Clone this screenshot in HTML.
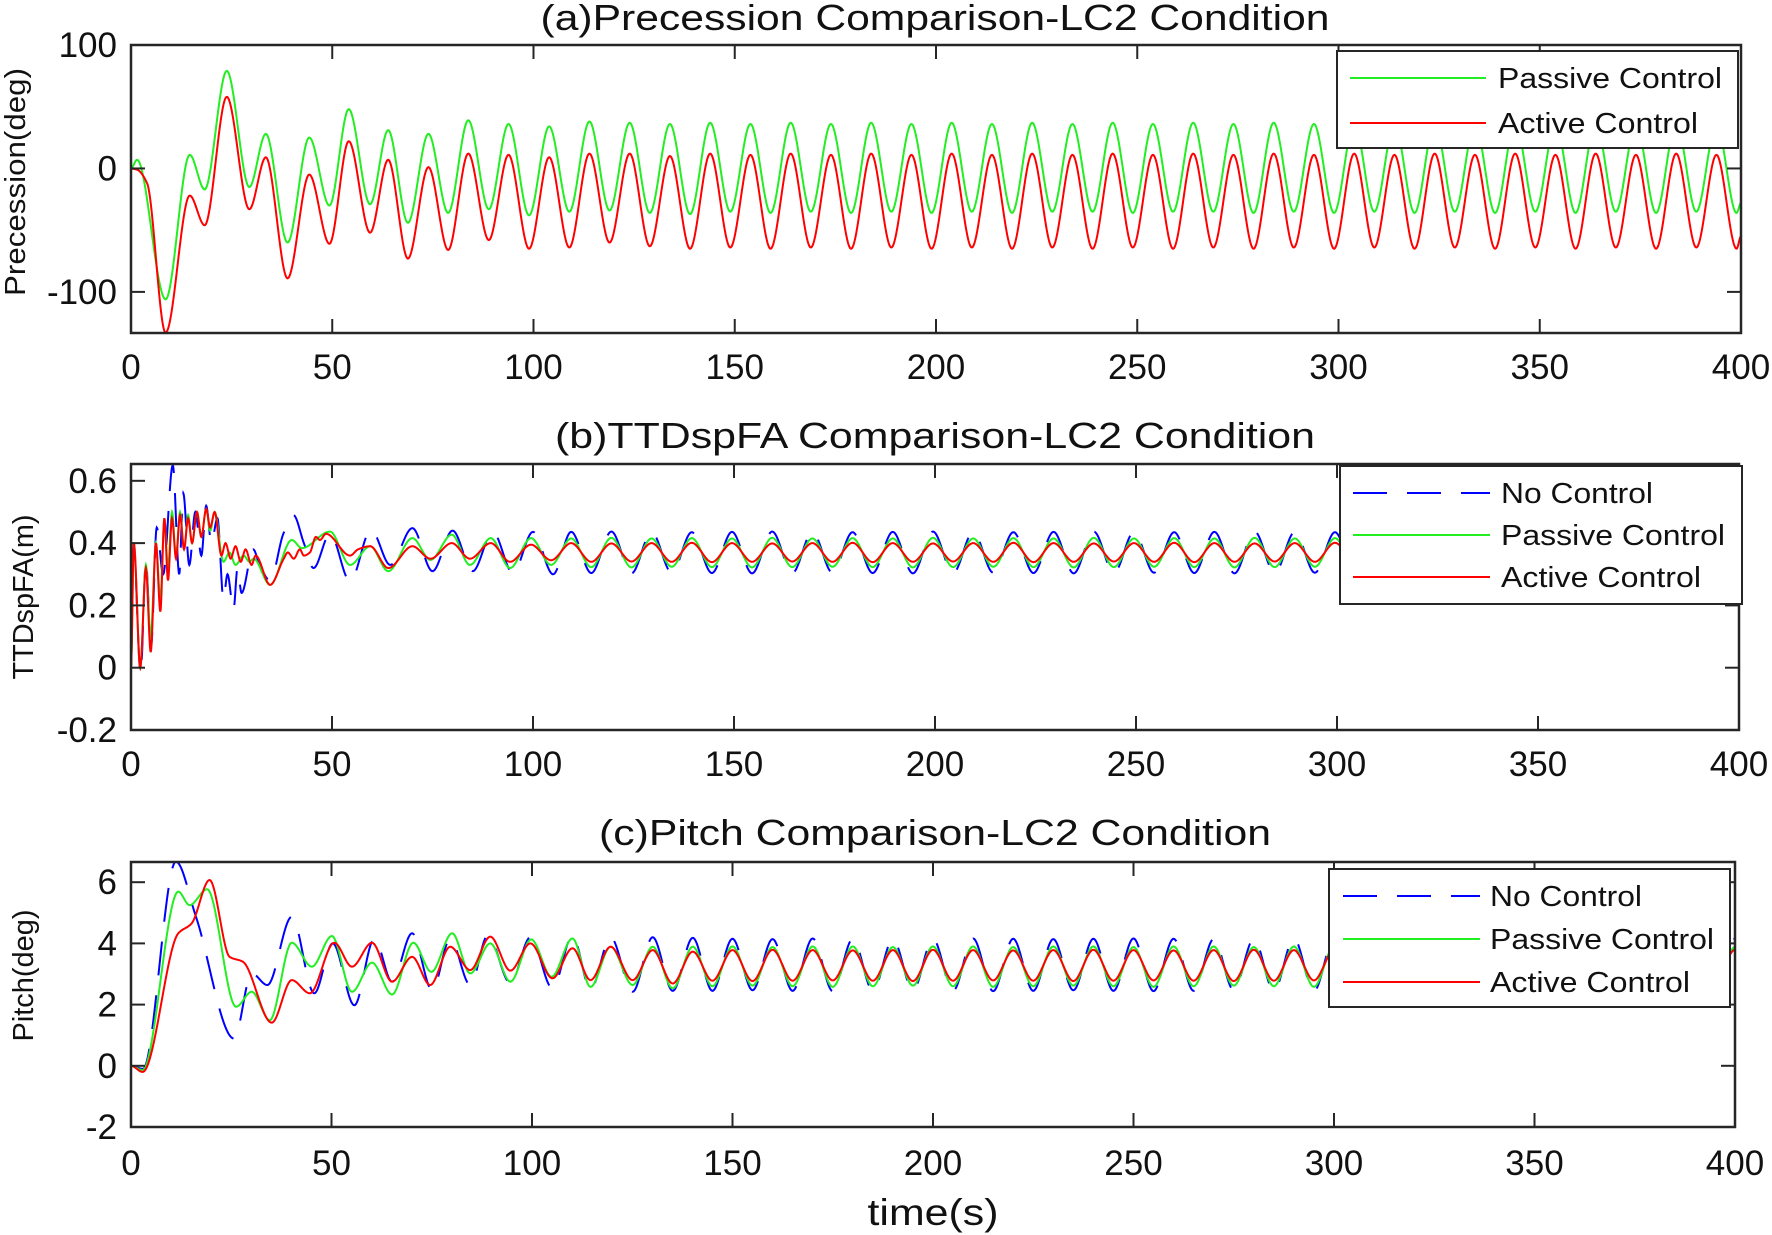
<!DOCTYPE html>
<html><head><meta charset="utf-8">
<style>
html,body{margin:0;padding:0;background:#fff;}
svg{display:block;font-family:"Liberation Sans",Arial,sans-serif;}
</style></head>
<body>
<svg id="fig" width="1772" height="1235" viewBox="0 0 1772 1235" xmlns="http://www.w3.org/2000/svg"></svg>
<script>
// ---------- Panel (a) Precession ----------
const aGreenT = [0,1.5,8.6,14.6,18.3,23.8,29.4,33.5,38.9,44.3,49.3,54.1,59.4,63.9,68.8,73.9,78.8,83.8,88.9,93.8,98.9,103.9,108.9,113.9,118.9,123.9,128.9,133.9,138.9];
const aGreenV = [0,7,-106,11,-17,79,-15,28,-60,25,-30,48,-29,31,-44,28,-36,39,-33,36,-38,34,-35,38,-34,37,-36,36,-37];
const aRedT = [0,1.5,4,8.6,14.6,18.3,23.8,29.4,33.5,38.9,44.3,49.3,54.1,59.4,63.9,68.8,73.9,78.8,83.8,88.9,93.8,98.9,103.9,108.9,113.9,118.9,123.9,128.9,133.9,138.9];
const aRedV = [0,-1,-12,-133,-22,-46,58,-33,9,-89,-5,-61,22,-52,7,-73,1,-66,12,-58,11,-65,9,-64,12,-60,12,-63,10,-65];
const aSteadyT = [143.9,148.9,153.9,158.9,163.9,168.9,173.9,178.9,183.9,188.9,193.9,198.9,203.9,208.9,213.9,218.9,223.9,228.9,233.9,238.9,243.9,248.9,253.9,258.9,263.9,268.9,273.9,278.9,283.9,288.9,293.9,298.9,303.9,308.9,313.9,318.9,323.9,328.9,333.9,338.9,343.9,348.9,353.9,358.9,363.9,368.9,373.9,378.9,383.9,388.9,393.9,398.9,400];
const aGreenSteady = [37,-35,36,-36,37,-35,36,-36,37,-35,36,-36,37,-35,36,-36,37,-35,36,-35,37,-36,36,-35,37,-35,36,-36,37,-35,36,-36,37,-35,36,-36,37,-35,36,-36,37,-35,36,-36,37,-35,36,-36,37,-35,36,-36,-28];
const aRedSteady = [12,-64,11,-65,12,-64,11,-65,12,-64,11,-65,12,-64,11,-65,12,-64,11,-65,12,-64,11,-65,12,-64,11,-65,12,-64,11,-65,12,-64,11,-65,12,-64,11,-65,12,-64,11,-65,12,-64,11,-65,12,-64,11,-65,-55];
const aYTicks = [-100,0,100];
const aYTickLabels = ["-100","0","100"];

// ---------- Panel (b) TTDspFA ----------
const bGreenT = [0,0.7,2.3,3.7,4.9,6.2,7.3,8.3,9.2,10.2,11.2,12.2,13.2,14.2,15.2,16.4,17.5,18.7,19.7,20.8,23,24.5,26,28,29.5,30.5,34.6,40,42.5,49.5,54.5,59.5,64,70,74.5,79.8,84.3,89.5,94.3,99.5,104.5];
const bGreenV = [0,0.40,0.0,0.33,0.10,0.40,0.22,0.48,0.32,0.50,0.36,0.50,0.38,0.49,0.40,0.50,0.42,0.51,0.44,0.50,0.34,0.37,0.33,0.36,0.34,0.35,0.266,0.41,0.384,0.437,0.33,0.39,0.31,0.416,0.346,0.427,0.33,0.416,0.32,0.416,0.33];
const bRedT = [0,0.7,2.3,3.7,4.9,6.2,7.3,8.3,9.2,10.2,11.2,12.2,13.2,14.2,15.2,16.4,17.5,18.7,19.7,20.8,22.5,23.5,24.8,26,27.3,28.5,30,31,34.6,38,39,40.5,42,43,44.5,46,47,48.5,54.5,56.5,59.5,64,70,74.5,79.8,84.3,89.5,94.3,99.5,104.5];
const bRedV = [0,0.40,0.0,0.32,0.05,0.40,0.18,0.48,0.28,0.48,0.35,0.49,0.38,0.48,0.40,0.50,0.42,0.51,0.45,0.50,0.36,0.40,0.35,0.39,0.34,0.38,0.33,0.36,0.266,0.35,0.37,0.35,0.38,0.36,0.37,0.42,0.41,0.43,0.36,0.38,0.39,0.32,0.39,0.35,0.40,0.35,0.40,0.34,0.395,0.345];
const bBlueT = [0,0.6,2.4,3.7,5,6.4,8,10.4,12,13,14.5,16,17.5,18.7,20,21.5,23,24,25.5,26.5,27.5,30.4,32,34.6,37.9,40.4,43,45.4,49.5,54.5,59.7,64.5,70,75,80,85,90,95,100,105];
const bBlueV = [0,0.40,-0.02,0.34,0.07,0.45,0.30,0.65,0.30,0.56,0.33,0.50,0.36,0.52,0.40,0.48,0.22,0.30,0.186,0.32,0.24,0.38,0.33,0.28,0.43,0.49,0.40,0.32,0.43,0.277,0.443,0.33,0.448,0.31,0.44,0.31,0.436,0.304,0.436,0.30];
const bSteadyT = [109.5,114.5,119.5,124.5,129.5,134.5,139.5,144.5,149.5,154.5,159.5,164.5,169.5,174.5,179.5,184.5,189.5,194.5,199.5,204.5,209.5,214.5,219.5,224.5,229.5,234.5,239.5,244.5,249.5,254.5,259.5,264.5,269.5,274.5,279.5,284.5,289.5,294.5,299.5,304.5,309.5,314.5,319.5,324.5,329.5,334.5,339.5,344.5,349.5,354.5,359.5,364.5,369.5,374.5,379.5,384.5,389.5,394.5,399.5];
const bGreenSteady = [0.415,0.323,0.417,0.322,0.415,0.324,0.416,0.323,0.415,0.322,0.417,0.323,0.415,0.324,0.416,0.323,0.415,0.322,0.417,0.323,0.415,0.324,0.416,0.323,0.415,0.322,0.417,0.323,0.415,0.324,0.416,0.323,0.415,0.322,0.417,0.323,0.415,0.324,0.416,0.323,0.415,0.322,0.417,0.323,0.415,0.324,0.416,0.323,0.415,0.322,0.417,0.323,0.415,0.324,0.416,0.323,0.415,0.322,0.417];
const bRedSteady = [0.400,0.340,0.399,0.341,0.400,0.340,0.401,0.339,0.400,0.340,0.399,0.341,0.400,0.340,0.401,0.339,0.400,0.340,0.399,0.341,0.400,0.340,0.401,0.339,0.400,0.340,0.399,0.341,0.400,0.340,0.401,0.339,0.400,0.340,0.399,0.341,0.400,0.340,0.401,0.339,0.400,0.340,0.399,0.341,0.400,0.340,0.401,0.339,0.400,0.340,0.399,0.341,0.400,0.340,0.401,0.339,0.400,0.340,0.400];
const bBlueSteady = [0.436,0.304,0.437,0.303,0.436,0.305,0.435,0.304,0.436,0.303,0.437,0.304,0.436,0.305,0.435,0.304,0.436,0.303,0.437,0.304,0.436,0.305,0.435,0.304,0.436,0.303,0.437,0.304,0.436,0.305,0.435,0.304,0.436,0.303,0.437,0.304,0.436,0.305,0.435,0.304,0.436,0.303,0.437,0.304,0.436,0.305,0.435,0.304,0.436,0.303,0.437,0.304,0.436,0.305,0.435,0.304,0.436,0.303,0.436];
const bYTicks = [-0.2,0,0.2,0.4,0.6];
const bYTickLabels = ["-0.2","0","0.2","0.4","0.6"];

// ---------- Panel (c) Pitch ----------
const cGreenT = [0,2.9,11.8,14.6,19,26.2,30.1,34.6,40.1,45.1,50.1,55.1,60.1,65.1,70.4,74.9,80.1,84.6,89.6,94.6,99.8,104.9,110.1,114.6,119.6,125.1,130.1,135.1,140.1];
const cGreenV = [0,-0.14,5.69,5.25,5.77,1.93,2.42,1.49,4.02,3.24,4.24,2.42,3.37,2.33,4.02,3.07,4.33,3.02,4.0,2.75,4.13,2.91,4.16,2.58,3.89,2.64,3.89,2.53,3.89];
const cRedT = [0,2.9,11.8,15.1,19.6,24.6,27.9,35.1,40.1,44.6,50.7,55.1,60.1,65.1,70.1,74.6,79.6,84.6,89.6,94.6,99.6,105.1,110.1,114.6,119.6,125.1,130.1,135.1,140.1];
const cRedV = [0,-0.2,4.33,4.65,6.07,3.56,3.4,1.41,2.8,2.37,4.02,3.24,4.02,2.75,3.56,2.64,3.89,3.13,4.22,3.11,4.0,2.86,3.84,2.8,3.89,2.8,3.78,2.69,3.73];
const cBlueT = [0,3,11.2,16.2,25.7,30.1,34,40.1,45.7,50.3,55.7,60.7,65.1,70.1,75.1,79.6,84.6,89,94.6,99.6,105.1,110.1,114.6,119.6,125.1,130.1,135.1,140.1];
const cBlueV = [0,-0.1,6.67,4.87,0.89,3.02,2.64,4.87,2.37,4.0,1.98,4.16,2.75,4.33,2.47,4.15,2.64,4.27,2.7,4.2,2.53,4.25,2.5,4.2,2.42,4.2,2.45,4.18];
const cSteadyT = [145,150,155,160,165,170,175,180,185,190,195,200,205,210,215,220,225,230,235,240,245,250,255,260,265,270,275,280,285,290,295,300,305,310,315,320,325,330,335,340,345,350,355,360,365,370,375,380,385,390,395,400];
const cGreenSteady = [2.6,3.9,2.62,3.88,2.6,3.9,2.58,3.9,2.6,3.88,2.62,3.9,2.6,3.9,2.58,3.88,2.6,3.9,2.62,3.9,2.6,3.88,2.58,3.9,2.6,3.9,2.62,3.88,2.6,3.9,2.58,3.9,2.6,3.88,2.62,3.9,2.6,3.9,2.58,3.88,2.6,3.9,2.62,3.9,2.6,3.88,2.58,3.9,2.6,3.9,2.62,3.88];
const cRedSteady = [2.78,3.78,2.77,3.79,2.78,3.78,2.79,3.77,2.78,3.78,2.77,3.79,2.78,3.78,2.79,3.77,2.78,3.78,2.77,3.79,2.78,3.78,2.79,3.77,2.78,3.78,2.77,3.79,2.78,3.78,2.79,3.77,2.78,3.78,2.77,3.79,2.78,3.78,2.79,3.77,2.78,3.78,2.77,3.79,2.78,3.78,2.79,3.77,2.78,3.78,2.77,3.79];
const cBlueSteady = [2.45,4.15,2.47,4.14,2.45,4.16,2.44,4.15,2.45,4.14,2.47,4.15,2.45,4.16,2.44,4.15,2.45,4.14,2.47,4.15,2.45,4.16,2.44,4.15,2.45,4.14,2.47,4.15,2.45,4.16,2.44,4.15,2.45,4.14,2.47,4.15,2.45,4.16,2.44,4.15,2.45,4.14,2.47,4.15,2.45,4.16,2.44,4.15,2.45,4.14,2.47,4.15];
const cYTicks = [-2,0,2,4,6];
const cYTickLabels = ["-2","0","2","4","6"];

const xTicks = [0,50,100,150,200,250,300,350,400];
const xTickLabels = ["0","50","100","150","200","250","300","350","400"];

const NS = "http://www.w3.org/2000/svg";
const svg = document.getElementById('fig');
function mk(tag, attrs, parent){const e=document.createElementNS(NS,tag);for(const k in attrs)e.setAttribute(k,attrs[k]);(parent||svg).appendChild(e);return e;}

function monotone(xs, ys){
  const n=xs.length, d=[], m=new Array(n);
  for(let i=0;i<n-1;i++) d.push((ys[i+1]-ys[i])/(xs[i+1]-xs[i]));
  m[0]=d[0]; m[n-1]=d[n-2];
  for(let i=1;i<n-1;i++){ if(d[i-1]*d[i]<=0) m[i]=0; else { const w1=2*(xs[i+1]-xs[i])+(xs[i]-xs[i-1]), w2=(xs[i+1]-xs[i])+2*(xs[i]-xs[i-1]); m[i]=(w1+w2)/(w1/d[i-1]+w2/d[i]); } }
  if(d[0]*m[1]<=0) m[0]=0; if(d[n-2]*m[n-2]<=0) m[n-1]=0;
  return function(x){
    let i=0; while(i<n-2 && x>xs[i+1]) i++;
    const h=xs[i+1]-xs[i], t=(x-xs[i])/h, t2=t*t, t3=t2*t;
    return (2*t3-3*t2+1)*ys[i]+(t3-2*t2+t)*h*m[i]+(-2*t3+3*t2)*ys[i+1]+(t3-t2)*h*m[i+1];
  };
}

function panel(cfg){
  const {id,L,R,T,B,ymin,ymax,title,titleY,titleLen,ylabel,ylabelX,ylabelLen,tickY,yTicks,yTickLabels,series,legend} = cfg;
  const g = mk('g',{});
  
  
  const xs = t => L + (t/400)*(R-L);
  const ys = v => B - (v-ymin)/(ymax-ymin)*(B-T);
  const clipId = id+'-clip';
  const cp = mk('clipPath',{id:clipId},g); mk('rect',{x:L,y:T,width:R-L,height:B-T},cp);
  series.forEach(s=>{
    const f = monotone(s.t, s.v);
    let d='';
    for(let t=0;t<=400.001;t+=0.1){ d += (d?'L':'M')+xs(t).toFixed(2)+','+ys(f(Math.min(t,400))).toFixed(2); }
    const p = mk('path',{d:d,fill:'none',stroke:s.color,'stroke-width':2,'clip-path':'url(#'+clipId+')','stroke-dasharray':s.dash||'none'},g);
    
    
  });
  const box = mk('rect',{x:L,y:T,width:R-L,height:B-T,fill:'none',stroke:'#262626','stroke-width':2.5},g);
  
  
  xTicks.forEach((t,i)=>{
    const x=xs(t);
    mk('line',{x1:x,y1:B,x2:x,y2:B-14,stroke:'#262626','stroke-width':2},g);
    mk('line',{x1:x,y1:T,x2:x,y2:T+14,stroke:'#262626','stroke-width':2},g);
    const tx = mk('text',{x:x,y:tickY+1,'font-size':35,'text-anchor':'middle',fill:'#111'},g);
    tx.textContent = xTickLabels[i];
    
    
  });
  yTicks.forEach((v,i)=>{
    const y=ys(v);
    mk('line',{x1:L,y1:y,x2:L+14,y2:y,stroke:'#262626','stroke-width':2},g);
    mk('line',{x1:R,y1:y,x2:R-14,y2:y,stroke:'#262626','stroke-width':2},g);
    const tx = mk('text',{x:L-14,y:y+12,'font-size':35,'text-anchor':'end',fill:'#111'},g);
    tx.textContent = yTickLabels[i];
    
    
  });
  const tt = mk('text',{x:935,y:titleY,'font-size':36,'text-anchor':'middle',fill:'#111',textLength:titleLen,lengthAdjust:'spacingAndGlyphs'},g);
  tt.textContent = title;
  
  
  const cy = (T+B)/2 + (cfg.ylabelShift||0);
  const yl = mk('text',{x:0,y:0,'font-size':29,'text-anchor':'middle',fill:'#111',textLength:ylabelLen,lengthAdjust:'spacingAndGlyphs',transform:'translate('+ylabelX+','+cy+') rotate(-90)'},g);
  yl.textContent = ylabel;
  
  
  const lg = mk('g',{},g);
  
  
  mk('rect',{x:legend.x,y:legend.y,width:legend.w,height:legend.h,fill:'#fff',stroke:'#262626','stroke-width':2},lg);
  legend.items.forEach((it,i)=>{
    const y = legend.rows[i];
    const ln = mk('line',{x1:legend.lx1,x2:legend.lx2,y1:y,y2:y,stroke:it.color,'stroke-width':2,'stroke-dasharray':it.dash||'none'},lg);
    
    
    const tx = mk('text',{x:legend.tx,y:y+10,'font-size':29,fill:'#111',textLength:it.len,lengthAdjust:'spacingAndGlyphs'},lg);
    tx.textContent = it.label;
    
    
  });
}

const noC={label:'No Control',color:'#0000ff',dash:'34 20',len:152};
const pasC={label:'Passive Control',color:'#22ee22',len:224};
const actC={label:'Active Control',color:'#ff0000',len:200};

panel({id:'precession',L:131,R:1741,T:45,B:333,ymin:-133.3,ymax:100,
  title:'(a)Precession Comparison-LC2 Condition',titleY:30,titleLen:789,
  ylabel:'Precession(deg)',ylabelX:25,ylabelLen:228,ylabelShift:-7,tickY:378,
  yTicks:aYTicks,yTickLabels:aYTickLabels,
  series:[
    {name:'passive',t:aGreenT.concat(aSteadyT),v:aGreenV.concat(aGreenSteady),color:'#22ee22'},
    {name:'active',t:aRedT.concat(aSteadyT),v:aRedV.concat(aRedSteady),color:'#ff0000'}],
  legend:{x:1337,y:51,w:401,h:97,rows:[78,123],lx1:1350,lx2:1486,tx:1498,items:[pasC,actC]}});

panel({id:'ttdspfa',L:131,R:1739,T:464,B:730,ymin:-0.2,ymax:0.654,
  title:'(b)TTDspFA Comparison-LC2 Condition',titleY:448,titleLen:760,
  ylabel:'TTDspFA(m)',ylabelX:33,ylabelLen:165,ylabelShift:0,tickY:775,
  yTicks:bYTicks,yTickLabels:bYTickLabels,
  series:[
    {name:'no-control',t:bBlueT.concat(bSteadyT),v:bBlueV.concat(bBlueSteady),color:'#0000ff',dash:'34 20'},
    {name:'passive',t:bGreenT.concat(bSteadyT),v:bGreenV.concat(bGreenSteady),color:'#22ee22'},
    {name:'active',t:bRedT.concat(bSteadyT),v:bRedV.concat(bRedSteady),color:'#ff0000'}],
  legend:{x:1340,y:466,w:402,h:138,rows:[493,535,577],lx1:1353,lx2:1490,tx:1501,items:[noC,pasC,actC]}});

panel({id:'pitch',L:131,R:1735,T:862,B:1127,ymin:-2,ymax:6.66,
  title:'(c)Pitch Comparison-LC2 Condition',titleY:845,titleLen:672,
  ylabel:'Pitch(deg)',ylabelX:33,ylabelLen:132,ylabelShift:-19,tickY:1174,
  yTicks:cYTicks,yTickLabels:cYTickLabels,
  series:[
    {name:'no-control',t:cBlueT.concat(cSteadyT),v:cBlueV.concat(cBlueSteady),color:'#0000ff',dash:'34 20'},
    {name:'passive',t:cGreenT.concat(cSteadyT),v:cGreenV.concat(cGreenSteady),color:'#22ee22'},
    {name:'active',t:cRedT.concat(cSteadyT),v:cRedV.concat(cRedSteady),color:'#ff0000'}],
  legend:{x:1329,y:869,w:401,h:138,rows:[896,939,982],lx1:1343,lx2:1480,tx:1490,items:[noC,pasC,actC]}});

const xl = mk('text',{x:933,y:1225,'font-size':37,'text-anchor':'middle',fill:'#111',textLength:131,lengthAdjust:'spacingAndGlyphs'});
xl.textContent='time(s)';


</script>
</body></html>
